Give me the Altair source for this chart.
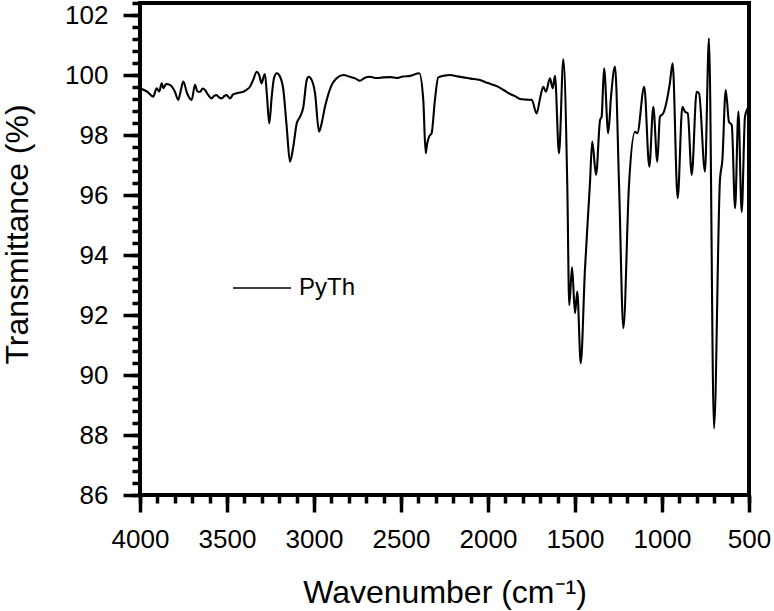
import altair as alt
import pandas as pd

# FTIR spectrum of PyTh: wavenumber (cm-1) and transmittance (%)
wavenumber = [
    4000, 3960, 3924, 3904, 3890, 3875, 3866, 3850, 3828, 3800, 3780, 3765, 3751, 3730,
    3703, 3684, 3670, 3655, 3640, 3626, 3610, 3588, 3575, 3560, 3545, 3530, 3515, 3502,
    3483, 3465, 3444, 3425, 3406, 3390, 3368, 3350, 3329, 3315, 3301, 3290, 3282, 3270,
    3257, 3243, 3230, 3214, 3195, 3176, 3157, 3138, 3119, 3099, 3080, 3061, 3042, 3031,
    3013, 2994, 2971, 2956, 2937, 2927, 2898, 2870, 2832, 2793, 2760, 2736, 2710, 2678,
    2640, 2602, 2560, 2525, 2490, 2448, 2395, 2372, 2358, 2350, 2339, 2324, 2305, 2286,
    2250, 2218, 2180, 2142, 2100, 2046, 2000, 1950, 1910, 1874, 1840, 1816, 1780, 1749,
    1720, 1701, 1682, 1667, 1644, 1628, 1615, 1592, 1567, 1544, 1533, 1517, 1500, 1487,
    1467, 1443, 1414, 1401, 1379, 1356, 1347, 1333, 1309, 1293, 1270, 1246, 1222, 1190,
    1155, 1142, 1102, 1073, 1050, 1027, 1012, 993, 955, 939, 910, 883, 868, 852,
    829, 801, 787, 753, 730, 701, 667, 653, 634, 615, 599, 580, 561, 542,
    523, 508, 500,
]
transmittance = [
    99.56, 99.45, 99.28, 99.56, 99.45, 99.72, 99.56, 99.70, 99.67, 99.45, 99.17, 99.50, 99.78, 99.40,
    99.17, 99.67, 99.45, 99.44, 99.55, 99.50, 99.35, 99.22, 99.30, 99.33, 99.25, 99.22, 99.30, 99.33,
    99.22, 99.35, 99.39, 99.42, 99.44, 99.50, 99.61, 99.83, 100.11, 100.00, 99.72, 99.94, 100.03, 99.28,
    98.39, 99.28, 99.89, 100.06, 99.94, 99.50, 98.28, 97.11, 97.61, 98.39, 98.61, 98.94, 99.83, 99.94,
    99.83, 99.39, 98.11, 98.39, 98.94, 99.17, 99.67, 99.89, 100.00, 99.94, 99.88, 99.81, 99.90, 99.94,
    99.90, 99.92, 99.93, 99.90, 99.95, 99.97, 100.06, 99.17, 97.39, 97.70, 97.94, 98.06, 99.17, 99.92,
    99.98, 100.00, 99.96, 99.92, 99.88, 99.83, 99.73, 99.63, 99.50, 99.37, 99.28, 99.20, 99.18, 99.17,
    98.72, 99.22, 99.61, 99.44, 99.89, 99.56, 99.97, 97.39, 100.52, 96.20, 92.33, 93.59, 92.06, 92.78,
    90.39, 93.50, 96.40, 97.78, 96.67, 98.50, 98.61, 100.22, 98.06, 99.28, 100.28, 96.17, 91.56, 96.30,
    98.11, 98.06, 99.61, 96.94, 98.94, 97.11, 98.61, 98.72, 99.72, 100.39, 95.89, 98.94, 98.78, 98.72,
    96.67, 99.44, 99.39, 96.78, 101.22, 88.22, 96.50, 97.17, 99.50, 98.44, 98.33, 95.56, 98.78, 95.44,
    98.61, 98.89, 99.00,
]
series_name = "PyTh"

# Tick positions
x_major = [4000, 3500, 3000, 2500, 2000, 1500, 1000, 500]
x_minor = list(range(500, 4001, 100))
y_major = [86, 88, 90, 92, 94, 96, 98, 100, 102]
y_minor = [round(86 + 0.4 * k, 1) for k in range(42)]

df = pd.DataFrame({"wn": wavenumber, "T": transmittance, "series": series_name})

FONT = "Liberation Sans"
x_scale = alt.Scale(domain=[500, 4000], reverse=True, nice=False, zero=False)
y_scale = alt.Scale(domain=[86, 102.4], nice=False, zero=False)

spectrum = alt.Chart(df).mark_line(
    strokeWidth=2.1, strokeJoin="round", interpolate="monotone"
).encode(
    x=alt.X(
        "wn:Q",
        scale=x_scale,
        axis=alt.Axis(
            orient="bottom", values=x_major, format="d",
            tickSize=17, tickWidth=3.5, tickColor="black", tickOpacity=1,
            labelFont=FONT, labelFontSize=26, labelColor="black", labelPadding=14,
            labelFlush=False, labelOverlap=False, labelBound=False,
            domain=False, grid=False,
            title="Wavenumber (cm⁻¹)", titleFont=FONT, titleFontSize=32,
            titleFontWeight="normal", titleColor="black", titlePadding=25,
        ),
    ),
    y=alt.Y(
        "T:Q",
        scale=y_scale,
        axis=alt.Axis(
            orient="left", values=y_major, format="d",
            tickSize=17, tickWidth=3.5, tickColor="black", tickOpacity=1,
            labelFont=FONT, labelFontSize=26, labelColor="black", labelPadding=15,
            labelFlush=False, labelOverlap=False, labelBound=False,
            domain=False, grid=False,
            title="Transmittance (%)", titleFont=FONT, titleFontSize=32,
            titleFontWeight="normal", titleColor="black", titlePadding=30,
            titleY=231,
        ),
    ),
    order=alt.Order("wn:Q", sort="descending"),
    color=alt.Color(
        "series:N",
        scale=alt.Scale(range=["black"]),
        legend=alt.Legend(
            title=None, orient="none", legendX=92, legendY=255,
            symbolType="stroke", symbolSize=3364, symbolStrokeWidth=1.6,
            labelFont=FONT, labelFontSize=24, labelColor="black", labelOffset=7,
            padding=0,
        ),
    ),
)

# Minor tick marks on both axes
minor = alt.Chart(df).mark_line(opacity=0).encode(
    x=alt.X(
        "wn:Q",
        scale=x_scale,
        axis=alt.Axis(
            orient="bottom", values=x_minor, tickSize=8, tickWidth=3.5,
            tickColor="black", tickOpacity=1,
            labels=False, domain=False, grid=False, title=None,
        ),
    ),
    y=alt.Y(
        "T:Q",
        scale=y_scale,
        axis=alt.Axis(
            orient="left", values=y_minor, tickSize=8, tickWidth=3.5,
            tickColor="black", tickOpacity=1,
            labels=False, domain=False, grid=False, title=None,
        ),
    ),
)

chart = (
    alt.layer(spectrum, minor)
    .resolve_axis(x="independent", y="independent")
    .properties(
        width=609,
        height=492,
        padding={"left": 140, "top": 3, "right": 25, "bottom": 116},
        autosize=alt.AutoSizeParams(type="none"),
        background="white",
    )
    .configure_view(stroke="black", strokeWidth=4)
)

chart.save("out.html", embed_options={"renderer": "svg", "actions": False})
